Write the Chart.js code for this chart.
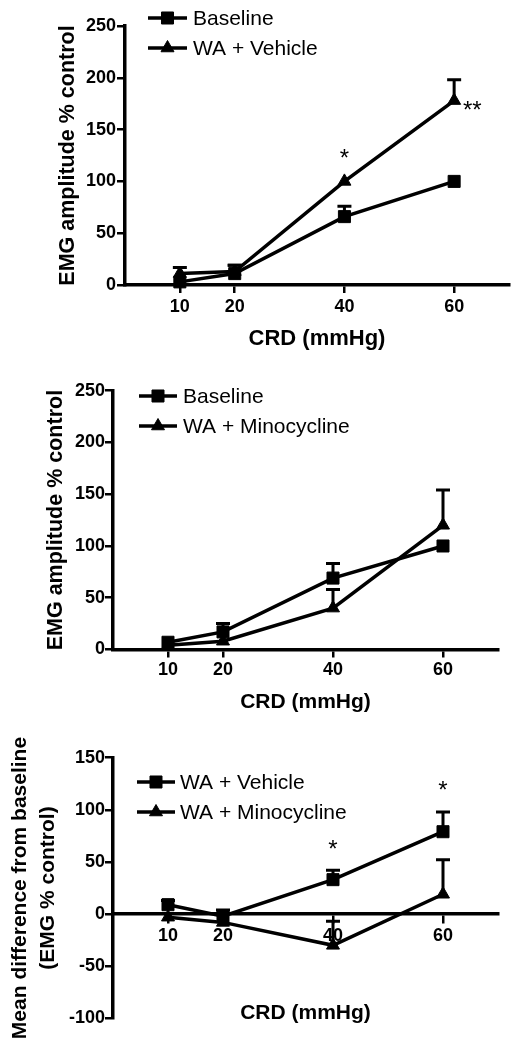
<!DOCTYPE html>
<html>
<head>
<meta charset="utf-8">
<script src="https://cdn.jsdelivr.net/npm/chart.js@4.4.1/dist/chart.umd.min.js"></script>
<style>
  body { margin: 0; background: #fff; }
  #wrap { position: relative; width: 530px; height: 1050px; }
  canvas { position: absolute; left: 0; }
</style>
</head>
<body>
<div id="wrap">
  <canvas id="panel-a" width="530" height="350" style="top:0"></canvas>
  <canvas id="panel-b" width="530" height="365" style="top:350px"></canvas>
  <canvas id="panel-c" width="530" height="340" style="top:710px"></canvas>
</div>
<script>
// CRD pressures (x) and tick values
const crdLevels = [10, 20, 40, 60];
const emgTicks = [0, 50, 100, 150, 200, 250];
const diffTicks = [-100, -50, 0, 50, 100, 150];

// Panel A: baseline vs WA + vehicle
const baselineA = [3, 11, 66, 100];
const baselineAErr = [0, 8, 10, 0];
const vehicleA = [11, 13, 100, 178];
const vehicleAErr = [6, 6, 0, 20];
const starsA = [{x: 40, y: 127, text: '*'}, {x: 63.3, y: 174, text: '**'}];

// Panel B: baseline vs WA + minocycline
const baselineB = [7, 17, 69, 100];
const baselineBErr = [0, 8, 14, 0];
const minoB = [4, 8, 40, 120];
const minoBErr = [0, 0, 18, 34];

// Panel C: mean difference from baseline
const vehicleC = [9, -2, 33, 79];
const vehicleCErr = [4, 6, 9, 19];
const minoC = [-3, -8, -30, 19];
const minoCErr = [0, 0, 23, 33];
const starsC = [{x: 40, y: 67, text: '*'}, {x: 60, y: 124, text: '*'}];

const FONT = "'Liberation Sans', Arial, sans-serif";
const tickFont = {family: FONT, size: 18, weight: 'bold'};

// error bars (upper only), drawn from each dataset's errors array
const errorBars = {
  id: 'errorBars',
  afterDatasetsDraw(chart) {
    const ctx = chart.ctx;
    const xs = chart.scales.x, ys = chart.scales.y;
    ctx.save();
    ctx.strokeStyle = '#000';
    ctx.lineWidth = 3;
    chart.data.datasets.forEach(ds => {
      (ds.errors || []).forEach((e, i) => {
        if (!e) return;
        const pt = ds.data[i];
        const x = xs.getPixelForValue(pt.x);
        const y0 = ys.getPixelForValue(pt.y);
        const y1 = ys.getPixelForValue(pt.y + e);
        ctx.beginPath();
        ctx.moveTo(x, y0);
        ctx.lineTo(x, y1);
        ctx.moveTo(x - 7, y1);
        ctx.lineTo(x + 7, y1);
        ctx.stroke();
      });
    });
    ctx.restore();
  }
};

// significance asterisks
const stars = {
  id: 'stars',
  afterDraw(chart, args, opts) {
    if (!opts.marks) return;
    const ctx = chart.ctx;
    ctx.save();
    ctx.fillStyle = '#000';
    ctx.font = '24px ' + FONT;
    ctx.textAlign = 'center';
    ctx.textBaseline = 'alphabetic';
    opts.marks.forEach(m => {
      const x = chart.scales.x.getPixelForValue(m.x);
      const y = chart.scales.y.getPixelForValue(m.y);
      ctx.fillText(m.text, x, y + 13);
    });
    ctx.restore();
  }
};

// GraphPad-style legend: line with marker, then label
const lineLegend = {
  id: 'lineLegend',
  afterDraw(chart, args, opts) {
    const ctx = chart.ctx;
    ctx.save();
    chart.data.datasets.forEach((ds, i) => {
      const y = opts.y + i * opts.gap;
      ctx.strokeStyle = '#000';
      ctx.fillStyle = '#000';
      ctx.lineWidth = 3.5;
      ctx.beginPath();
      ctx.moveTo(opts.x, y);
      ctx.lineTo(opts.x + opts.len, y);
      ctx.stroke();
      ctx.lineWidth = 1;
      Chart.helpers.drawPoint(ctx, {pointStyle: ds.pointStyle, radius: ds.pointRadius, borderWidth: 1, rotation: 0}, opts.x + opts.len / 2, y);
      ctx.font = '21px ' + FONT;
      ctx.textAlign = 'left';
      ctx.textBaseline = 'middle';
      ctx.fillText(ds.label, opts.textX, y + 1);
    });
    ctx.restore();
  }
};

function series(label, values, errors, style) {
  return {
    label: label,
    data: crdLevels.map((x, i) => ({x: x, y: values[i]})),
    errors: errors,
    borderColor: '#000',
    backgroundColor: '#000',
    borderWidth: 3.5,
    pointStyle: style,
    pointRadius: style === 'rect' ? 8.5 : 7.5,
    pointBorderWidth: 1,
    tension: 0,
    clip: false,
  };
}

function makePanel(id, p) {
  const xScale = {
    type: 'linear',
    min: 0,
    max: 70,
    position: p.xPosition || 'bottom',
    afterBuildTicks: s => { s.ticks = crdLevels.map(v => ({value: v})); },
    ticks: {color: '#000', font: tickFont, padding: p.xPad},
    grid: {drawOnChartArea: false, tickLength: 8, color: '#000', lineWidth: 2.5},
    border: {color: '#000', width: 3.5},
    title: p.xTitle,
    afterFit: s => { s.height = p.xHeight; s.paddingLeft = 0; s.paddingRight = 0; },
  };
  const scales = {
    x: xScale,
    y: {
      type: 'linear',
      min: p.yTicks[0],
      max: p.yTicks[p.yTicks.length - 1],
      afterBuildTicks: s => { s.ticks = p.yTicks.map(v => ({value: v})); },
      ticks: {color: '#000', font: tickFont, padding: p.yPad},
      grid: {drawOnChartArea: false, tickLength: 8, color: '#000', lineWidth: 2.5},
      border: {color: '#000', width: 3.5},
      title: p.yTitle,
      afterFit: s => { s.width = p.yWidth; s.paddingTop = 0; s.paddingBottom = 0; },
    },
  };
  if (p.x2) scales.x2 = p.x2;
  return new Chart(document.getElementById(id), {
    type: 'line',
    data: {datasets: p.datasets},
    options: {
      responsive: false,
      animation: false,
      layout: {padding: p.padding},
      scales: scales,
      plugins: {
        legend: {display: false},
        tooltip: {enabled: false},
        lineLegend: p.legend,
        stars: {marks: p.stars},
      },
    },
    plugins: [errorBars, stars, lineLegend],
  });
}

// Panel A
makePanel('panel-a', {
  datasets: [
    series('Baseline', baselineA, baselineAErr, 'rect'),
    series('WA + Vehicle', vehicleA, vehicleAErr, 'triangle'),
  ],
  yTicks: emgTicks,
  padding: {top: 26, right: 21, bottom: 0, left: 0},
  yWidth: 125, xHeight: 65, xPad: 3, yPad: 1,
  xTitle: {display: true, text: 'CRD (mmHg)', color: '#000', font: {family: FONT, size: 22, weight: 'bold', lineHeight: 1}, padding: {top: 0, bottom: 0}},
  yTitle: {display: true, text: 'EMG amplitude % control', color: '#000', font: {family: FONT, size: 21.5, weight: 'bold', lineHeight: 1}, padding: {top: 57.5, bottom: 0}},
  legend: {x: 148, y: 18, gap: 30, len: 39, textX: 193},
  stars: starsA,
});

// Panel B
makePanel('panel-b', {
  datasets: [
    series('Baseline', baselineB, baselineBErr, 'rect'),
    series('WA + Minocycline', minoB, minoBErr, 'triangle'),
  ],
  yTicks: emgTicks,
  padding: {top: 40.7, right: 32, bottom: 0, left: 0},
  yWidth: 113, xHeight: 65.5, xPad: 2, yPad: 0,
  xTitle: {display: true, text: 'CRD (mmHg)', color: '#000', font: {family: FONT, size: 21, weight: 'bold', lineHeight: 1}, padding: {top: 0, bottom: 2.5}},
  yTitle: {display: true, text: 'EMG amplitude % control', color: '#000', font: {family: FONT, size: 21.5, weight: 'bold', lineHeight: 1}, padding: {top: 45, bottom: 0}},
  legend: {x: 139, y: 46, gap: 30, len: 38, textX: 183},
  stars: [],
});

// Panel C - x axis crosses at zero, title kept on a bare bottom axis
makePanel('panel-c', {
  datasets: [
    series('WA + Vehicle', vehicleC, vehicleCErr, 'rect'),
    series('WA + Minocycline', minoC, minoCErr, 'triangle'),
  ],
  yTicks: diffTicks,
  padding: {top: 47.7, right: 32, bottom: 0, left: 0},
  xPosition: {y: 0},
  yWidth: 113, xHeight: 0, xPad: 3, yPad: 0,
  xTitle: {display: false},
  x2: {
    type: 'linear', min: 0, max: 70, position: 'bottom',
    ticks: {display: false},
    grid: {display: false},
    border: {display: false},
    title: {display: true, text: 'CRD (mmHg)', color: '#000', font: {family: FONT, size: 21, weight: 'bold', lineHeight: 1}, padding: {top: 0, bottom: 26.5}},
    afterFit: s => { s.height = 31.7; s.paddingLeft = 0; s.paddingRight = 0; },
  },
  yTitle: {display: true, text: ['Mean difference from baseline', '(EMG % control)'], color: '#000', font: {family: FONT, size: 21, weight: 'bold', lineHeight: 1.333}, padding: {top: 6, bottom: 0}},
  legend: {x: 137, y: 72, gap: 30, len: 38, textX: 180},
  stars: starsC,
});
</script>
</body>
</html>
